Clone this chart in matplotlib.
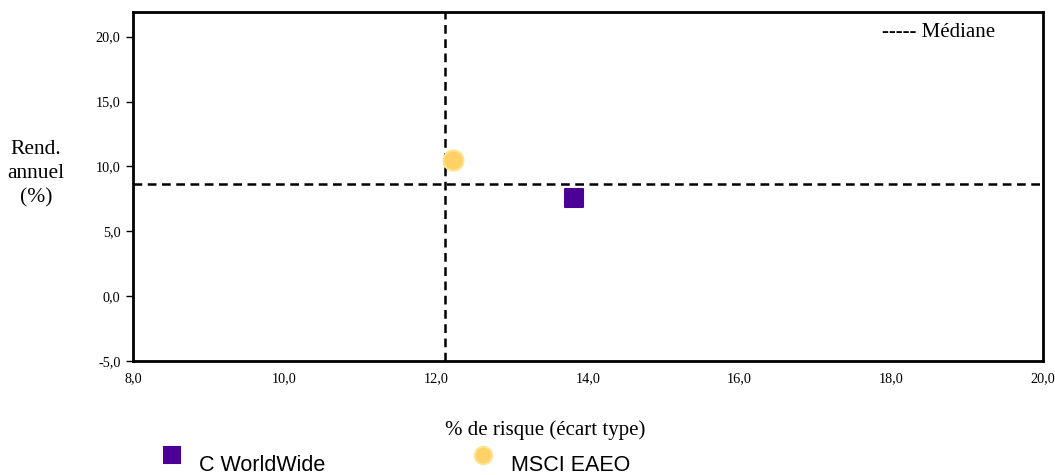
import matplotlib
matplotlib.use("Agg")
import matplotlib.pyplot as plt
from matplotlib.ticker import FuncFormatter, MultipleLocator
from matplotlib.lines import Line2D

# Data
names = ["C WorldWide", "MSCI EAEO"]
risk = [13.82, 12.22]
returns = [7.6, 10.5]
colors = ["#4B0096", "#FFD166"]
edges = ["#4B0096", "#FFE38F"]
markers = ["s", "o"]
median_risk = 12.12
median_return = 8.65

fig = plt.figure(figsize=(10.55, 4.75), dpi=100)
ax = fig.add_axes([0.126, 0.24, 0.8627, 0.7347])

for name, x, y, c, ec, m in zip(names, risk, returns, colors, edges, markers):
    size = 185 if m == "s" else 210
    ax.scatter(x, y, s=size, marker=m, color=c, edgecolor=ec, linewidth=1.5,
               zorder=3, label=name)

ax.axvline(median_risk, color="black", linestyle=(0, (3.5, 2.2)), linewidth=1.8, zorder=2)
ax.axhline(median_return, color="black", linestyle=(0, (3.5, 2.2)), linewidth=1.8, zorder=2)

ax.set_xlim(8, 20)
ax.set_ylim(-5, 21.9)
ax.xaxis.set_major_locator(MultipleLocator(2))
ax.yaxis.set_major_locator(MultipleLocator(5))
fmt = FuncFormatter(lambda v, p: f"{v:.1f}".replace(".", ","))
ax.xaxis.set_major_formatter(fmt)
ax.yaxis.set_major_formatter(fmt)

for s in ax.spines.values():
    s.set_linewidth(2)
    s.set_color("black")

ax.tick_params(axis="x", length=0, pad=8, labelsize=10.3)
ax.tick_params(axis="y", length=5, width=1, pad=4, labelsize=10.3)
for lbl in ax.get_xticklabels() + ax.get_yticklabels():
    lbl.set_family("Liberation Serif")

ax.text(0.947, 0.94, "----- Médiane", transform=ax.transAxes, ha="right", va="center",
        family="Liberation Serif", fontsize=15)

fig.text(0.034, 0.634, "Rend.\nannuel\n(%)", ha="center", va="center",
         family="Liberation Serif", fontsize=15.5, linespacing=1.35)
fig.text(0.517, 0.094, "% de risque (écart type)", ha="center", va="center",
         family="Liberation Serif", fontsize=15)

# Legend drawn by hand: marker sits slightly above its label
leg_x = [0.163, 0.458]
for name, lx, c, ec, m in zip(names, leg_x, colors, edges, markers):
    ms = 12 if m == "s" else 12.5
    fig.add_artist(Line2D([lx], [0.042], marker=m, markersize=ms, color=c,
                          markeredgecolor=ec, markeredgewidth=1.5, linestyle="none",
                          transform=fig.transFigure))
    fig.text(lx + 0.026, 0.02, name, ha="left", va="center",
             family="Liberation Sans", fontsize=15.5)

fig.savefig("out.png", dpi=100)
